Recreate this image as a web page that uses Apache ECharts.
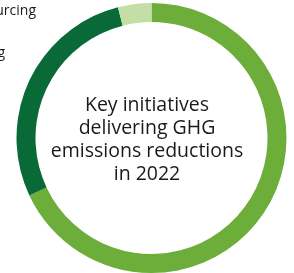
<!DOCTYPE html>
<html>
<head>
<meta charset="utf-8">
<script src="https://cdn.jsdelivr.net/npm/echarts@6/dist/echarts.min.js"></script>
<style>
  html, body { margin: 0; padding: 0; background: #fff; }
  #main { width: 294px; height: 273px; }
</style>
</head>
<body>
<div id="main"></div>
<script>
var initiatives = ['Operational efficiency and fuel switching', 'Energy efficiency and optimising', 'Renewable electricity sourcing'];
var shares = [68, 28, 4];
var sliceColors = ['#6DAD3A', '#0A6A37', '#C3DFA5'];
var centerTitle = 'Key initiatives\ndelivering GHG\nemissions reductions\nin 2022';

var myChart = echarts.init(document.getElementById('main'));

// label anchor points for the two small slices (right-aligned, running off the left edge)
var labelSpots = { 1: [5, 53], 2: [36, 11] };

var option = {
    animation: false,
    title: {
        text: centerTitle,
        left: 'center',
        top: 89,
        textStyle: {
            fontFamily: 'Open Sans',
            fontSize: 19.5,
            fontWeight: 'normal',
            lineHeight: 23,
            color: '#1a1a1a',
            align: 'center'
        }
    },
    series: [
        {
            name: 'initiatives',
            type: 'pie',
            center: [151.5, 138],
            radius: [116, 135],
            startAngle: 90,
            clockwise: true,
            silent: true,
            label: {
                show: true,
                position: 'outside',
                fontFamily: 'Open Sans',
                fontSize: 14,
                color: '#1a1a1a',
                overflow: 'none',
                formatter: '{b}'
            },
            labelLine: { show: false },
            labelLayout: function (params) {
                var spot = labelSpots[params.dataIndex];
                if (!spot) {
                    return { x: -1000, y: -1000 };
                }
                return { x: spot[0], y: spot[1], align: 'right', verticalAlign: 'middle' };
            },
            data: initiatives.map(function (name, i) {
                return { name: name, value: shares[i], itemStyle: { color: sliceColors[i] } };
            })
        }
    ]
};
myChart.setOption(option);
</script>
</body>
</html>
